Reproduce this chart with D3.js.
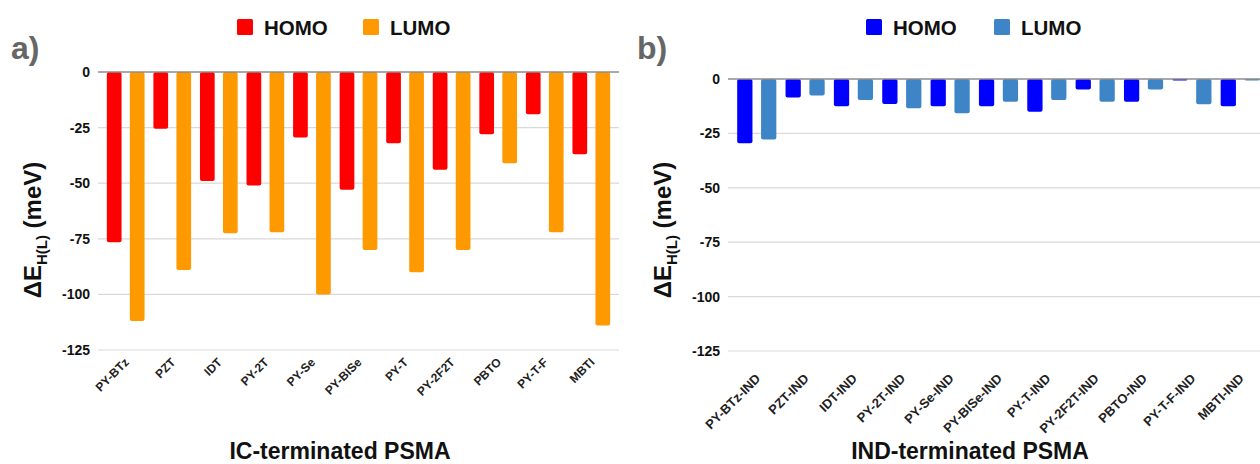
<!DOCTYPE html>
<html>
<head>
<meta charset="utf-8">
<script src="https://cdn.jsdelivr.net/npm/d3@7"></script>
<style>
  body { margin: 0; background: #fff; overflow: hidden; }
  svg { display: block; font-family: "Liberation Sans", Arial, sans-serif; }
</style>
</head>
<body>
<svg id="chart"></svg>
<script>
var width = 1260, height = 464;

// data
var categoriesIC = ["PY-BTz", "PZT", "IDT", "PY-2T", "PY-Se", "PY-BISe", "PY-T", "PY-2F2T", "PBTO", "PY-T-F", "MBTI"];
var homoIC = [-76.5, -25.5, -49, -51, -29.5, -53, -32, -44, -28, -19, -37];
var lumoIC = [-112, -89, -72.5, -72, -100, -80, -90, -80, -41, -72, -114];

var categoriesIND = ["PY-BTz-IND", "PZT-IND", "IDT-IND", "PY-2T-IND", "PY-Se-IND", "PY-BISe-IND", "PY-T-IND", "PY-2F2T-IND", "PBTO-IND", "PY-T-F-IND", "MBTI-IND"];
var homoIND = [-29.5, -8.5, -12.5, -11.5, -12.5, -12.5, -15, -4.8, -10.5, -0.6, -12.5];
var lumoIND = [-27.8, -7.6, -9.6, -13.4, -15.7, -10.5, -9.6, -10.5, -4.8, -11.6, -0.6];

var yTicks = [0, -25, -50, -75, -100, -125];
var series = ["HOMO", "LUMO"];

var svg = d3.select("#chart")
  .attr("width", width)
  .attr("height", height);

// one panel of the figure
function drawPanel(opt) {
  var g = svg.append("g");

  var x0 = d3.scaleBand()
    .domain(opt.categories)
    .range([opt.left, opt.right])
    .padding(0.19);

  var x1 = d3.scaleBand()
    .domain(series)
    .range([0, x0.bandwidth()])
    .paddingInner(0.36);

  var y = d3.scaleLinear()
    .domain([0, -125])
    .range([opt.top, opt.bottom]);

  var color = d3.scaleOrdinal().domain(series).range(opt.colors);

  // gridlines
  g.selectAll(".grid")
    .data(yTicks.filter(function(d){ return d !== 0; }))
    .enter().append("line")
    .attr("x1", opt.left).attr("x2", opt.right)
    .attr("y1", function(d){ return y(d); })
    .attr("y2", function(d){ return y(d); })
    .attr("stroke", "#d9d9d9").attr("stroke-width", 1.2);

  // y tick labels
  g.selectAll(".ytick")
    .data(yTicks)
    .enter().append("text")
    .attr("x", opt.left - 8)
    .attr("y", function(d){ return y(d); })
    .attr("dy", "0.35em")
    .attr("text-anchor", "end")
    .attr("font-size", 14).attr("font-weight", "bold")
    .attr("fill", "#111")
    .text(function(d){ return d; });

  // bars
  var rows = opt.categories.map(function(c, i){
    return { cat: c, values: [{ key: "HOMO", v: opt.homo[i] }, { key: "LUMO", v: opt.lumo[i] }] };
  });

  var groups = g.selectAll(".grp")
    .data(rows)
    .enter().append("g")
    .attr("transform", function(d){ return "translate(" + x0(d.cat) + ",0)"; });

  groups.selectAll("rect")
    .data(function(d){ return d.values; })
    .enter().append("rect")
    .attr("x", function(d){ return x1(d.key); })
    .attr("y", y(0))
    .attr("width", x1.bandwidth())
    .attr("height", function(d){ return Math.max(1.5, y(d.v) - y(0)); })
    .attr("rx", 2)
    .attr("fill", function(d){ return color(d.key); });

  // zero line
  g.append("line")
    .attr("x1", opt.left).attr("x2", opt.right)
    .attr("y1", y(0)).attr("y2", y(0))
    .attr("stroke", "#8c8c8c").attr("stroke-width", 1.5);

  // category labels
  g.selectAll(".xlab")
    .data(opt.categories)
    .enter().append("text")
    .attr("transform", function(d){
      return "translate(" + (x0(d) + x0.bandwidth() / 2 - 2) + "," + (opt.bottom + opt.xOffset) + ") rotate(-45)";
    })
    .attr("text-anchor", "end")
    .attr("dy", "0.7em")
    .attr("font-size", opt.xFont).attr("font-weight", "bold")
    .attr("fill", "#222")
    .text(function(d){ return d; });

  // axis title
  g.append("text")
    .attr("x", opt.titleX).attr("y", 459)
    .attr("text-anchor", "middle")
    .attr("font-size", 23).attr("font-weight", "bold")
    .attr("fill", "#111")
    .text(opt.title);

  // y label
  var yl = g.append("text")
    .attr("transform", "translate(" + opt.yLabelX + "," + opt.yLabelY + ") rotate(-90)")
    .attr("text-anchor", "middle")
    .attr("font-weight", "bold")
    .attr("fill", "#111")
    .attr("font-size", 24);
  yl.append("tspan").text("ΔE");
  yl.append("tspan").attr("font-size", 15).attr("dy", 6).text("H(L)");
  yl.append("tspan").attr("dy", -6).text(" (meV)");

  // panel letter
  g.append("text")
    .attr("x", opt.letterX).attr("y", 59)
    .attr("font-size", 32).attr("font-weight", "bold")
    .attr("fill", "#666")
    .text(opt.letter);

  // legend
  var leg = g.selectAll(".leg")
    .data(series)
    .enter().append("g")
    .attr("transform", function(d, i){ return "translate(" + opt.legendX[i] + ",19)"; });
  leg.append("rect")
    .attr("width", 16).attr("height", 16).attr("rx", 1.5)
    .attr("fill", function(d){ return color(d); });
  leg.append("text")
    .attr("x", 27).attr("y", 15.5)
    .attr("font-size", 20.5).attr("font-weight", "bold")
    .attr("fill", "#111")
    .text(function(d){ return d; });
}

drawPanel({
  categories: categoriesIC, homo: homoIC, lumo: lumoIC,
  left: 98, right: 619, top: 72, bottom: 350,
  colors: ["#ff0000", "#ff9900"],
  xFont: 12, xOffset: 7, title: "IC-terminated PSMA", titleX: 340,
  yLabelX: 41, yLabelY: 230,
  letter: "a)", letterX: 11,
  legendX: [237, 363]
});

drawPanel({
  categories: categoriesIND, homo: homoIND, lumo: lumoIND,
  left: 728, right: 1269, top: 79, bottom: 351,
  colors: ["#0000ff", "#3d85c6"],
  xFont: 13, xOffset: 22, title: "IND-terminated PSMA", titleX: 970,
  yLabelX: 671, yLabelY: 230,
  letter: "b)", letterX: 637,
  legendX: [866, 994]
});
</script>
</body>
</html>
